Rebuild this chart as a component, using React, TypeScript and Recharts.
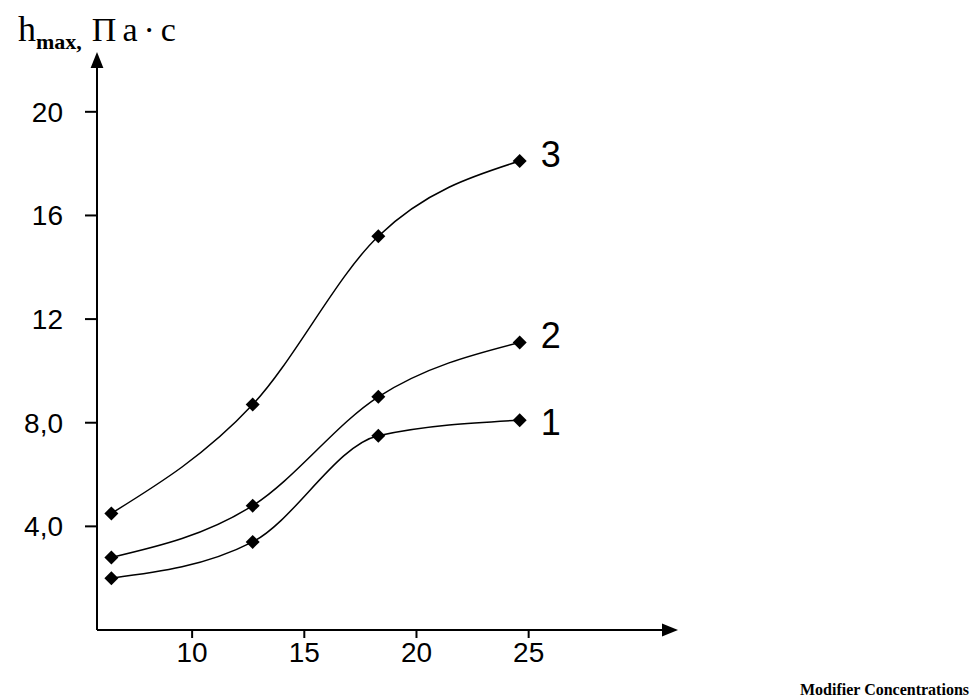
import { LineChart, Line, XAxis, YAxis } from "recharts";

// concentration values where points were measured
const concentrations = [6.4, 12.7, 18.3, 24.6];
const curve1 = [2.0, 3.4, 7.5, 8.1];
const curve2 = [2.8, 4.8, 9.0, 11.1];
const curve3 = [4.5, 8.7, 15.2, 18.1];
const curveNames = ["1", "2", "3"];
const xTicks = [10, 15, 20, 25];
const yTicks = [4, 8, 12, 16, 20];

const rows = concentrations.map((x, i) => ({
  x,
  c1: curve1[i],
  c2: curve2[i],
  c3: curve3[i],
}));

const tickFont = { fill: "#000", fontSize: 28, fontFamily: "Liberation Sans" };

function Diamond(props: any) {
  const { cx, cy } = props;
  if (cx == null || cy == null) return null;
  return (
    <path
      d={`M${cx},${cy - 7} L${cx + 7},${cy} L${cx},${cy + 7} L${cx - 7},${cy} Z`}
      fill="#000"
    />
  );
}

function endLabel(name: string) {
  return (props: any) => {
    const { x, y, index } = props;
    if (index !== concentrations.length - 1) return null;
    return (
      <text
        x={x + 21}
        y={y}
        dy={name === "1" ? 15 : 6}
        fontSize={36}
        fontFamily="Liberation Sans"
        fill="#000"
      >
        {name}
      </text>
    );
  };
}

export default function App() {
  const keys = ["c1", "c2", "c3"];
  return (
    <div
      style={{
        position: "absolute",
        left: 0,
        top: 0,
        width: 978,
        height: 700,
        background: "#fff",
      }}
    >
      <div
        style={{
          position: "absolute",
          left: 18,
          top: 8,
          fontFamily: "Liberation Serif",
          fontSize: 36,
          color: "#000",
          whiteSpace: "nowrap",
        }}
      >
        h
        <sub style={{ fontSize: 22, fontWeight: "bold" }}>max,</sub>
        <span style={{ fontSize: 34, letterSpacing: 6, marginLeft: 10 }}>
          Па·с
        </span>
      </div>
      <LineChart
        width={978}
        height={700}
        data={rows}
        margin={{ top: 60, right: 308, bottom: 40, left: 37 }}
      >
        <defs>
          <marker
            id="arrow"
            viewBox="0 0 10 10"
            refX="5"
            refY="5"
            markerWidth="8"
            markerHeight="8"
            orient="auto-start-reverse"
          >
            <path d="M0,1 L10,5 L0,9 Z" fill="#000" />
          </marker>
        </defs>
        <XAxis
          dataKey="x"
          type="number"
          domain={[5.76, 31.3]}
          ticks={xTicks}
          allowDataOverflow
          height={30}
          tickSize={8}
          tickMargin={4}
          tick={tickFont}
          axisLine={{ stroke: "#000", strokeWidth: 2, markerEnd: "url(#arrow)" }}
          tickLine={{ stroke: "#000", strokeWidth: 2 }}
        />
        <YAxis
          type="number"
          domain={[0, 22]}
          ticks={yTicks}
          allowDataOverflow
          width={60}
          tickSize={12}
          tickMargin={22}
          tick={tickFont}
          tickFormatter={(v: number) =>
            v < 10 ? v.toFixed(1).replace(".", ",") : String(v)
          }
          axisLine={{ stroke: "#000", strokeWidth: 2, markerStart: "url(#arrow)" }}
          tickLine={{ stroke: "#000", strokeWidth: 2 }}
        />
        {keys.map((k, i) => (
          <Line
            key={k}
            dataKey={k}
            type="monotone"
            stroke="#000"
            strokeWidth={1.5}
            dot={<Diamond />}
            label={endLabel(curveNames[i])}
            isAnimationActive={false}
          />
        ))}
      </LineChart>
      <div
        style={{
          position: "absolute",
          left: 800,
          top: 681,
          fontFamily: "Liberation Serif",
          fontWeight: "bold",
          fontSize: 16,
          color: "#000",
          whiteSpace: "nowrap",
        }}
      >
        Modifier Concentrations
      </div>
    </div>
  );
}
